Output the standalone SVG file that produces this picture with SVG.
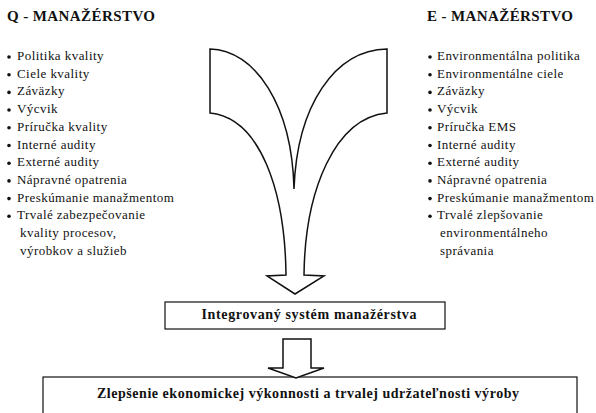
<svg xmlns="http://www.w3.org/2000/svg" width="596" height="413" viewBox="0 0 596 413">
<style>
.hdr{font-family:"Liberation Serif","Times New Roman",serif;font-weight:bold;font-size:15px;fill:#111}
.li{font-family:"Liberation Serif","Times New Roman",serif;font-size:13px;letter-spacing:0.45px;fill:#111}
.bx{font-family:"Liberation Serif","Times New Roman",serif;font-weight:bold;font-size:14px;fill:#111}
.shape{fill:#fff;stroke:#111;stroke-width:1.5;stroke-linejoin:miter}
.box{fill:#fff;stroke:#111;stroke-width:1.2}
.dot{fill:#111}
</style>
<rect width="596" height="413" fill="#fff"/>
<g id="q-manazerstvo">
<text class="hdr" x="7" y="21" textLength="148" lengthAdjust="spacing">Q - MANAŽÉRSTVO</text>
<g class="dot">
<circle cx="9" cy="57" r="1.8"/><circle cx="9" cy="74.7" r="1.8"/><circle cx="9" cy="92.4" r="1.8"/><circle cx="9" cy="110" r="1.8"/><circle cx="9" cy="127.8" r="1.8"/><circle cx="9" cy="145.5" r="1.8"/><circle cx="9" cy="163.2" r="1.8"/><circle cx="9" cy="180.9" r="1.8"/><circle cx="9" cy="198.6" r="1.8"/><circle cx="9" cy="216.3" r="1.8"/>
</g>
<text class="li" x="17" y="60">Politika kvality</text>
<text class="li" x="17" y="77.7">Ciele kvality</text>
<text class="li" x="17" y="95.4">Záväzky</text>
<text class="li" x="17" y="113">Výcvik</text>
<text class="li" x="17" y="130.8">Príručka kvality</text>
<text class="li" x="17" y="148.5">Interné audity</text>
<text class="li" x="17" y="166.2">Externé audity</text>
<text class="li" x="17" y="183.9">Nápravné opatrenia</text>
<text class="li" x="17" y="201.6">Preskúmanie manažmentom</text>
<text class="li" x="17" y="219.3">Trvalé zabezpečovanie</text>
<text class="li" x="20" y="237">kvality procesov,</text>
<text class="li" x="20" y="254.7">výrobkov a služieb</text>
</g>
<g id="e-manazerstvo">
<text class="hdr" x="427" y="21" textLength="146" lengthAdjust="spacing">E - MANAŽÉRSTVO</text>
<g class="dot">
<circle cx="430" cy="57" r="1.8"/><circle cx="430" cy="74.7" r="1.8"/><circle cx="430" cy="92.4" r="1.8"/><circle cx="430" cy="110" r="1.8"/><circle cx="430" cy="127.8" r="1.8"/><circle cx="430" cy="145.5" r="1.8"/><circle cx="430" cy="163.2" r="1.8"/><circle cx="430" cy="180.9" r="1.8"/><circle cx="430" cy="198.6" r="1.8"/><circle cx="430" cy="216.3" r="1.8"/>
</g>
<text class="li" x="437" y="60">Environmentálna politika</text>
<text class="li" x="437" y="77.7">Environmentálne ciele</text>
<text class="li" x="437" y="95.4">Záväzky</text>
<text class="li" x="437" y="113">Výcvik</text>
<text class="li" x="437" y="130.8">Príručka EMS</text>
<text class="li" x="437" y="148.5">Interné audity</text>
<text class="li" x="437" y="166.2">Externé audity</text>
<text class="li" x="437" y="183.9">Nápravné opatrenia</text>
<text class="li" x="437" y="201.6">Preskúmanie manažmentom</text>
<text class="li" x="437" y="219.3">Trvalé zlepšovanie</text>
<text class="li" x="440" y="237">environmentálneho</text>
<text class="li" x="440" y="254.7">správania</text>
</g>
<g id="ims">
<rect class="box" x="165" y="302" width="280" height="27"/>
<text class="bx" x="309" y="319" text-anchor="middle" textLength="215" lengthAdjust="spacing">Integrovaný systém manažérstva</text>
</g>
<g id="result">
<rect class="box" x="43" y="377" width="534" height="60"/>
<text class="bx" x="308" y="397.5" text-anchor="middle" textLength="422" lengthAdjust="spacing">Zlepšenie ekonomickej výkonnosti a trvalej udržateľnosti výroby</text>
</g>
<g id="connectors">
<path class="shape" d="M210,49 C255,50 292,105 294,189 C297,105 335,50 387,49 L387,113 C335,118 305,190 304,275 L324,276 L295,294 L267,276 L286,275 C285,190 260,118 210,113 Z"/>
<path class="shape" d="M283,339 L311,339 L311,368 L324,368 L296,378 L268,368 L283,368 Z"/>
</g>
</svg>
